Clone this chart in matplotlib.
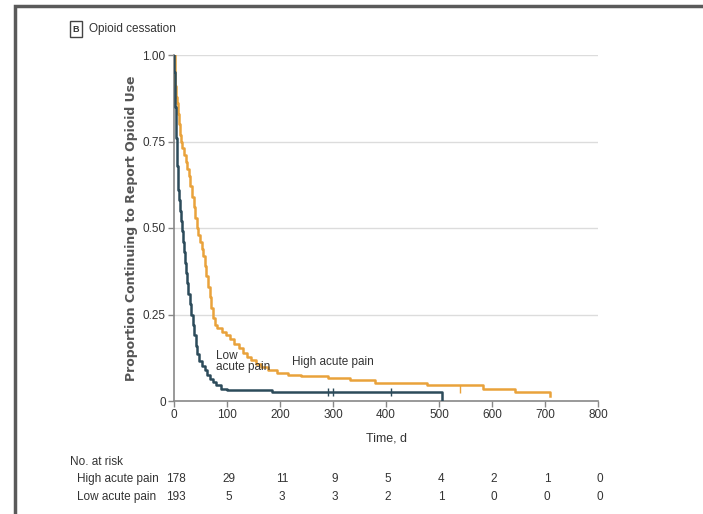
import matplotlib
matplotlib.use("Agg")
import matplotlib.pyplot as plt
from matplotlib.patches import Rectangle
from matplotlib.transforms import blended_transform_factory

# ---- data ----
low_t = [0, 0.5, 1, 2, 3, 4, 5, 6, 7, 8, 10, 11, 13, 15, 17, 19, 21, 23, 25, 27, 30, 33, 35, 38, 41, 44, 48, 53, 58, 63, 68, 73, 80, 88, 100, 185, 505]
low_s = [1.0, 0.95, 0.90, 0.85, 0.80, 0.76, 0.72, 0.68, 0.64, 0.61, 0.58, 0.55, 0.52, 0.49, 0.46, 0.43, 0.40, 0.37, 0.34, 0.31, 0.28, 0.25, 0.22, 0.19, 0.16, 0.135, 0.115, 0.10, 0.09, 0.075, 0.065, 0.055, 0.045, 0.035, 0.032, 0.027, 0.0]

high_t = [0, 1, 2, 3, 5, 7, 9, 11, 13, 16, 19, 22, 25, 28, 31, 34, 37, 40, 43, 46, 49, 52, 55, 58, 61, 64, 67, 70, 73, 77, 82, 90, 98, 106, 114, 122, 130, 138, 146, 155, 165, 178, 195, 215, 240, 290, 332, 379, 477, 583, 643, 709]
high_s = [1.0, 0.95, 0.91, 0.88, 0.86, 0.83, 0.80, 0.77, 0.75, 0.73, 0.71, 0.69, 0.67, 0.65, 0.62, 0.59, 0.56, 0.53, 0.50, 0.48, 0.46, 0.44, 0.42, 0.39, 0.36, 0.33, 0.30, 0.27, 0.24, 0.22, 0.21, 0.20, 0.19, 0.178, 0.165, 0.152, 0.14, 0.128, 0.118, 0.108, 0.098, 0.09, 0.082, 0.076, 0.072, 0.066, 0.061, 0.053, 0.045, 0.035, 0.025, 0.015]

low_cens_t = [290, 300, 410]
low_cens_s = [0.027, 0.027, 0.027]
high_cens_t = [540]
high_cens_s = [0.035]

risk_times = [0, 100, 200, 300, 400, 500, 600, 700, 800]
risk_high = [178, 29, 11, 9, 5, 4, 2, 1, 0]
risk_low = [193, 5, 3, 3, 2, 1, 0, 0, 0]

yticks = [0, 0.25, 0.5, 0.75, 1.0]
ytick_labels = ["0", "0.25", "0.50", "0.75", "1.00"]
xticks = [0, 100, 200, 300, 400, 500, 600, 700, 800]

LOW_C = "#2c4b5a"
HIGH_C = "#e9a23b"
NARROW = ["Liberation Sans", "DejaVu Sans"]
TXT = "#333333"

fig = plt.figure(figsize=(7.03, 5.14), dpi=100)
ax = fig.add_axes([174/703, 1-401/514, (598-174)/703, (401-55)/514])

for y in [0.25, 0.5, 0.75, 1.0]:
    ax.axhline(y, color="#dcdcdc", lw=1.0, zorder=0)

ax.step(high_t, high_s, where="post", color=HIGH_C, lw=1.8, zorder=3)
ax.step(low_t, low_s, where="post", color=LOW_C, lw=1.8, zorder=4)
ax.plot(low_cens_t, low_cens_s, ls="none", marker="|", ms=6, color=LOW_C, zorder=5)
ax.plot(high_cens_t, high_cens_s, ls="none", marker="|", ms=6, color=HIGH_C, zorder=5)

ax.set_xlim(0, 800)
ax.set_ylim(0, 1.0)
ax.set_xticks(xticks)
ax.set_xticklabels([str(x) for x in xticks], family=NARROW, fontsize=8.5, color=TXT)
ax.set_yticks(yticks)
ax.set_yticklabels(ytick_labels, family=NARROW, fontsize=8.5, color=TXT)
for s in ["top", "right"]:
    ax.spines[s].set_visible(False)
for s in ["left", "bottom"]:
    ax.spines[s].set_color("#888888")
    ax.spines[s].set_linewidth(1.2)
ax.tick_params(axis="both", direction="out", length=4, color="#888888", width=1, pad=2)

ax.set_ylabel("Proportion Continuing to Report Opioid Use", fontsize=9,
              fontweight="bold", color="#555555")
ax.yaxis.set_label_coords((138 - 174) / 424, 0.5)
ax.set_xlabel("Time, d", family=NARROW, fontsize=9, color=TXT, labelpad=8)

ax.text(80, 0.148, "Low\nacute pain", family=NARROW, fontsize=8.5, color=TXT,
        va="top", ha="left", linespacing=0.95)
ax.text(222, 0.113, "High acute pain", family=NARROW, fontsize=8.5, color=TXT,
        va="center", ha="left")

# title
fig.text(76/703, 1-29/514, "B", family=NARROW, fontsize=6.5, fontweight="bold",
         color=TXT, ha="center", va="center",
         bbox=dict(boxstyle="square,pad=0.35", fc="white", ec="#444444", lw=1))
fig.text(89/703, 1-29/514, "Opioid cessation", family=NARROW, fontsize=8.5,
         color=TXT, ha="left", va="center")

# number at risk
tr = blended_transform_factory(ax.transData, fig.transFigure)
fig.text(70/703, 1-462/514, "No. at risk", family=NARROW, fontsize=8.5, color=TXT,
         ha="left", va="center")
fig.text(77/703, 1-479/514, "High acute pain", family=NARROW, fontsize=8.5, color=TXT,
         ha="left", va="center")
fig.text(77/703, 1-497/514, "Low acute pain", family=NARROW, fontsize=8.5, color=TXT,
         ha="left", va="center")
for t, h, l in zip(risk_times, risk_high, risk_low):
    ax.text(t + 4, 1-479/514, str(h), transform=tr, family=NARROW, fontsize=8.5,
            color=TXT, ha="center", va="center")
    ax.text(t + 4, 1-497/514, str(l), transform=tr, family=NARROW, fontsize=8.5,
            color=TXT, ha="center", va="center")

# frame border
fig.patches.append(Rectangle((15/703, -0.1), 1.2, 1.1 - 6/514,
                             transform=fig.transFigure, fill=False,
                             ec="#5a5a5a", lw=2.5, zorder=10))

fig.savefig("out.png", dpi=100)
